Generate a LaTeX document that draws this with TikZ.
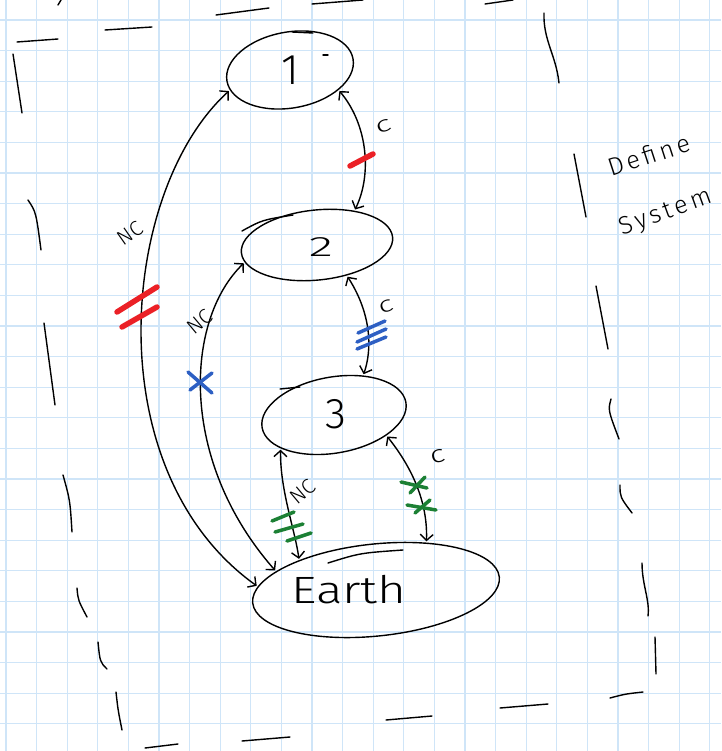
\documentclass[tikz,border=0pt]{standalone}
\usepackage{fontspec}
\newfontfamily\handfont{Fira Sans Light}
\newfontfamily\handwide{Fira Sans Light}[LetterSpace=14]
\usetikzlibrary{shapes.geometric,arrows.meta}
\definecolor{gridblue}{RGB}{207,229,248}
\definecolor{markred}{RGB}{235,32,38}
\definecolor{markblue}{RGB}{45,95,195}
\definecolor{markgreen}{RGB}{28,128,52}
\begin{document}
\begin{tikzpicture}[x=1pt,y=-1pt,
  gridline/.style={draw=gridblue,line width=1.3pt},
  pen/.style={line width=1.4pt,line cap=round,line join=round},
  ell/.style={draw,pen,ellipse,inner sep=0pt,outer sep=2pt},
  conn/.style={pen,{Straight Barb[length=6pt,width=13pt]}-{Straight Barb[length=6pt,width=13pt]}},
  txt/.style={inner sep=0pt},
  lbl/.style={inner sep=0pt,font=\handfont\fontsize{22}{22}\selectfont},
  nclbl/.style={inner sep=0pt,font=\handfont\fontsize{21}{21}\selectfont},
  redmark/.style={draw=markred,line width=5.5pt,line cap=round},
  bluemark/.style={draw=markblue,line width=3.5pt,line cap=round},
  greenmark/.style={draw=markgreen,line width=3.5pt,line cap=round}]
\useasboundingbox (0,0) rectangle (721,751);
\fill[white] (0,0) rectangle (721,751);
% graph paper
\foreach \k in {0,...,23} {\draw[gridline] ({6+30.6*\k},0) -- ({6+30.6*\k},751);}
\foreach \k in {0,...,23} {\draw[gridline] (0,{20+30.6*\k}) -- (721,{20+30.6*\k});}

% system boundary (dashes)
\draw[pen] (17,42) -- (58,39);
\draw[pen] (58,5) -- (61,0);
\draw[pen] (105,30) -- (152,27);
\draw[pen] (216,15) -- (269,8);
\draw[pen] (312,4) -- (363,0);
\draw[pen] (485,4) -- (513,0);
\draw[pen] (544,13) .. controls (543,40) and (556,55) .. (559,83);
\draw[pen] (13,54) -- (22,113);
\draw[pen] (28,200) .. controls (36,212) .. (41,250);
\draw[pen] (44,323) -- (55,405);
\draw[pen] (63,475) .. controls (70,500) .. (72,532);
\draw[pen] (77,588) .. controls (78,600) .. (87,617);
\draw[pen] (98,642) .. controls (100,662) .. (107,669);
\draw[pen] (116,692) .. controls (118,710) .. (122,730);
\draw[pen] (145,748) -- (178,744);
\draw[pen] (242,741) -- (290,737);
\draw[pen] (386,720) -- (432,716);
\draw[pen] (500,708) -- (548,704);
\draw[pen] (610,698) .. controls (625,694) .. (643,692);
\draw[pen] (574,154) -- (586,217);
\draw[pen] (596,286) -- (608,349);
\draw[pen] (611,399) .. controls (608,410) .. (619,439);
\draw[pen] (620,485) .. controls (620,497) .. (632,513);
\draw[pen] (642,563) .. controls (642,585) and (650,600) .. (648,616);
\draw[pen] (655,637) -- (656,674);

% define system
\node[txt,rotate=18,font=\handwide\fontsize{25}{25}\selectfont] (def) at (649,155) {Define};
\node[txt,rotate=20,font=\handwide\fontsize{25}{25}\selectfont] (sys) at (666,213) {System};

% objects
\node[ell,minimum width=128pt,minimum height=76pt,rotate=10] (e1) at (290,70) {};
\node[ell,minimum width=152pt,minimum height=70pt,rotate=6] (e2) at (317,245) {};
\node[ell,minimum width=146pt,minimum height=76pt,rotate=10] (e3) at (334,415) {};
\node[ell,minimum width=248pt,minimum height=92pt,rotate=6] (earth) at (376,590) {};
\draw[pen] (292,32) -- (313,33);
\draw[pen] (242,231) .. controls (262,220) .. (293,215);
\draw[pen] (280,389) -- (300,387);
\draw[pen] (328,563) .. controls (360,553) .. (403,550);

\node[txt,anchor=base,font=\handfont\fontsize{43}{43}\selectfont] (t1) at (290,85) {1};
\draw[pen] (323,55) -- (328,55);
\node[txt,anchor=base,xscale=1.8,font=\handfont\fontsize{28}{28}\selectfont] (t2) at (321,256) {2};
\node[txt,anchor=base,font=\handfont\fontsize{43}{43}\selectfont] (t3) at (336,428) {3};
\node[txt,anchor=base,xscale=1.3,font=\handfont\fontsize{38}{38}\selectfont] (tearth) at (349,603) {Earth};

% interactions
\draw[conn] (e1.-33) .. controls (368,125) and (372,175) .. (e2.37);
\draw[conn] (e1.189) .. controls (120,190) and (95,470) .. (earth.172);
\draw[conn] (e2.188) .. controls (185,320) and (178,460) .. (earth.163);
\draw[conn] (e2.-52) .. controls (372,315) and (372,350) .. (e3.44);
\draw[conn] (e3.203) .. controls (280,490) and (295,530) .. (earth.152);
\draw[conn] (e3.-32) .. controls (410,465) and (428,500) .. (earth.38);

% labels
\node[lbl,rotate=20,xscale=1.5] (l12) at (384,126) {c};
\node[nclbl,rotate=35] (l1e) at (130,233) {NC};
\node[nclbl,rotate=40] (l2e) at (200,322) {NC};
\node[lbl,rotate=20,xscale=1.4] (l23) at (386,307) {c};
\node[nclbl,rotate=40] (l3e) at (303,492) {NC};
\node[lbl,rotate=15,xscale=1.3,font=\handfont\fontsize{24}{24}\selectfont] (l3er) at (438,457) {c};

% marks
\draw[redmark] (350,166) -- (373,154);
\draw[redmark] (117,312) -- (157,287);
\draw[redmark] (122,327) -- (157,307);
\draw[bluemark] (188,372) -- (212,393);
\draw[bluemark] (190,390) -- (212,373);
\draw[bluemark] (358,333) -- (385,321);
\draw[bluemark] (357,342) -- (386,329);
\draw[bluemark] (357,349) -- (386,337);
\draw[greenmark] (272,521) -- (294,512);
\draw[greenmark] (275,532) -- (303,524);
\draw[greenmark] (287,541) -- (311,533);
\draw[greenmark] (401,482) -- (427,488);
\draw[greenmark] (410,493) -- (425,477);
\draw[greenmark] (407,505) -- (436,510);
\draw[greenmark] (415,513) -- (430,500);
\end{tikzpicture}
\end{document}
